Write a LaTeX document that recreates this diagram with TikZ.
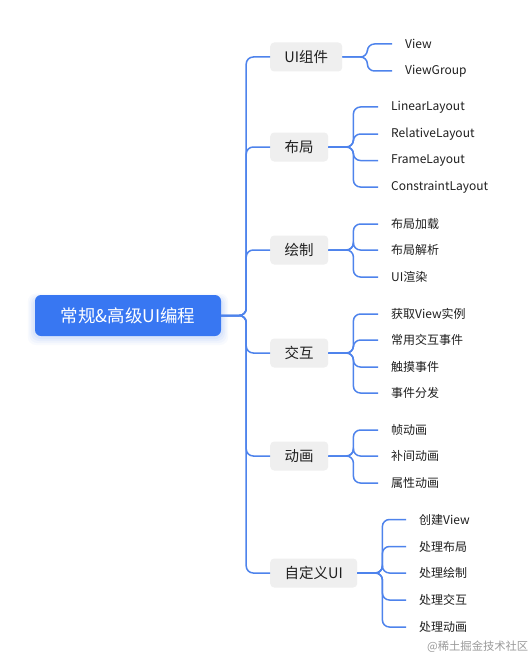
\documentclass[tikz,border=0pt]{standalone}
\usepackage{fontspec}
\setmainfont{Noto Sans CJK SC}
\usetikzlibrary{shadows}
\definecolor{rootblue}{HTML}{3877F2}
\definecolor{lineblue}{HTML}{4E83EC}
\definecolor{catgray}{HTML}{EFEFEF}
\definecolor{textdark}{HTML}{1F1F1F}
\definecolor{wmgray}{HTML}{9A9A9A}
\tikzset{
  rootbox/.style={fill=rootblue, rounded corners=6pt, text=white, minimum width=186pt, minimum height=41pt, inner sep=0pt, font=\fontsize{17.5}{20}\selectfont},
  catbox/.style={fill=catgray, rounded corners=4pt, minimum height=29pt, inner sep=0pt, text=textdark, font=\fontsize{14.5}{17}\selectfont, anchor=west},
  leaf/.style={anchor=west, inner sep=0pt, text=textdark, font=\fontsize{12}{14}\selectfont},
  conn/.style={draw=lineblue, line width=1.5pt, rounded corners=7pt},
  leafconn/.style={conn, shorten >=13pt}
}
\begin{document}
\begin{tikzpicture}[x=1pt,y=-1pt]
\useasboundingbox (0,0) rectangle (531,658);
\fill[white] (0,0) rectangle (531,658);
% soft shadow of root
\foreach \e/\o in {9/0.03,7/0.04,5/0.05,3/0.06}{
  \fill[rootblue, opacity=\o, rounded corners=8pt] (35-\e*0.8,299-\e*0.6) rectangle (221+\e*0.8,336+\e);
}
\node[rootbox] (root) at (128,315.5) {常规\&高级UI编程};

% categories
\node[catbox, minimum width=72pt] (c1) at (270,57) {UI组件};
\node[catbox, minimum width=58pt] (c2) at (270,147) {布局};
\node[catbox, minimum width=58pt] (c3) at (270,250) {绘制};
\node[catbox, minimum width=58pt] (c4) at (270,353) {交互};
\node[catbox, minimum width=58pt] (c5) at (270,456) {动画};
\node[catbox, minimum width=87pt] (c6) at (270,573) {自定义UI};

\foreach \c in {c1,c2,c3,c4,c5,c6}{
  \draw[conn] (root.east) -- ++(25,0) |- (\c.west);
}

% leaves
\node[leaf] (l11) at (405,44) {View};
\node[leaf] (l12) at (405,71) {ViewGroup};
\node[leaf] (l21) at (391,107) {LinearLayout};
\node[leaf] (l22) at (391,134) {RelativeLayout};
\node[leaf] (l23) at (391,160.5) {FrameLayout};
\node[leaf] (l24) at (391,187) {ConstraintLayout};
\node[leaf] (l31) at (391,224) {布局加载};
\node[leaf] (l32) at (391,250) {布局解析};
\node[leaf] (l33) at (391,277) {UI渲染};
\node[leaf] (l41) at (391,314) {获取View实例};
\node[leaf] (l42) at (391,340) {常用交互事件};
\node[leaf] (l43) at (391,367) {触摸事件};
\node[leaf] (l44) at (391,393) {事件分发};
\node[leaf] (l51) at (391,430) {帧动画};
\node[leaf] (l52) at (391,456) {补间动画};
\node[leaf] (l53) at (391,483) {属性动画};
\node[leaf] (l61) at (419,519.5) {创建View};
\node[leaf] (l62) at (419,546.5) {处理布局};
\node[leaf] (l63) at (419,573) {处理绘制};
\node[leaf] (l64) at (419,600) {处理交互};
\node[leaf] (l65) at (419,627) {处理动画};

\foreach \l in {l11,l12}{\draw[leafconn] (c1.east) -- ++(25,0) |- (\l.west);}
\foreach \l in {l21,l22,l23,l24}{\draw[leafconn] (c2.east) -- ++(25,0) |- (\l.west);}
\foreach \l in {l31,l32,l33}{\draw[leafconn] (c3.east) -- ++(25,0) |- (\l.west);}
\foreach \l in {l41,l42,l43,l44}{\draw[leafconn] (c4.east) -- ++(25,0) |- (\l.west);}
\foreach \l in {l51,l52,l53}{\draw[leafconn] (c5.east) -- ++(25,0) |- (\l.west);}
\foreach \l in {l61,l62,l63,l64,l65}{\draw[leafconn] (c6.east) -- ++(25,0) |- (\l.west);}

\node[anchor=west, inner sep=0pt, text=wmgray, font=\fontsize{11.3}{13}\selectfont] (wm) at (427,647) {@稀土掘金技术社区};
\end{tikzpicture}
\end{document}
